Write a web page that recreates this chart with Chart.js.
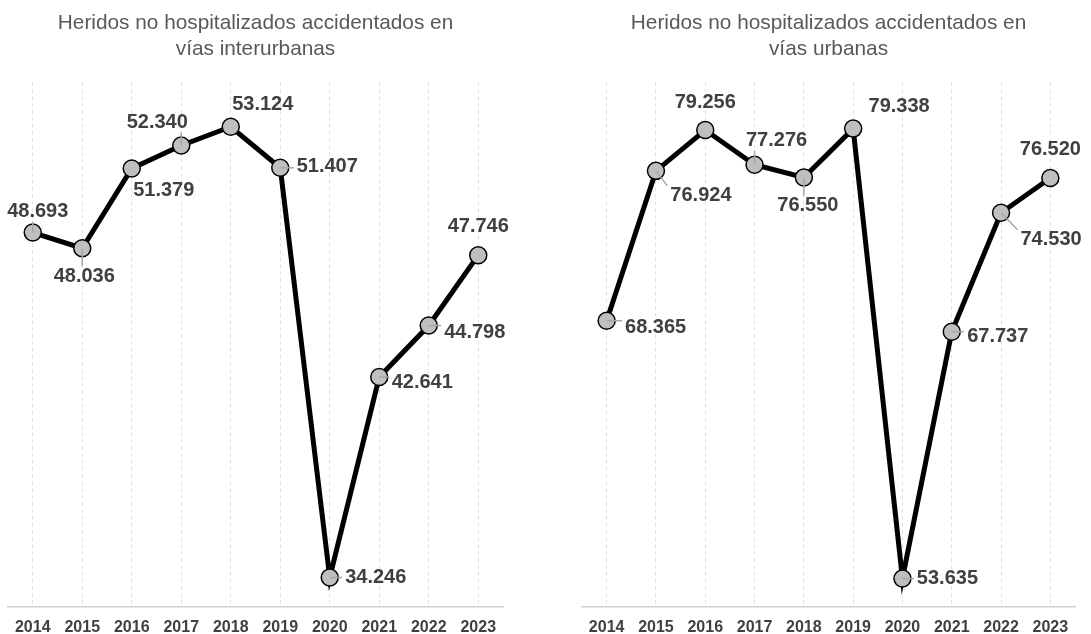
<!DOCTYPE html>
<html>
<head>
<meta charset="utf-8">
<script src="https://cdn.jsdelivr.net/npm/chart.js@4"></script>
<style>
  body { margin: 0; background: #fff; }
  .box { position: absolute; top: 0; }
</style>
</head>
<body>
<div class="box" style="left:0px"><canvas id="chartLeft" width="511" height="634"></canvas></div>
<div class="box" style="left:570px"><canvas id="chartRight" width="517" height="634"></canvas></div>
<script>
const years = ['2014', '2015', '2016', '2017', '2018', '2019', '2020', '2021', '2022', '2023'];
const interurbanas = [48693, 48036, 51379, 52340, 53124, 51407, 34246, 42641, 44798, 47746];
const urbanas = [68365, 76924, 79256, 77276, 76550, 79338, 53635, 67737, 74530, 76520];

const titleLeft = ['Heridos no hospitalizados accidentados en', 'vías interurbanas'];
const titleRight = ['Heridos no hospitalizados accidentados en', 'vías urbanas'];

// where each label sits relative to its point: [dx, dy, leader line?]
const labelPosLeft = [[5, -21, true], [2, 28, true], [32, 22, false], [-24, -23, true], [32, -22, false],
                      [47, -1, true], [46, 0, true], [43, 5, true], [46, 7, true], [0, -29, false]];
const labelPosRight = [[49, 7, true], [45, 25, true], [0, -28, false], [22, -24, true], [4, 28, true],
                       [46, -22, false], [45, 0, true], [46, 5, true], [50, 27, true], [0, -28, false]];

function formatNum(v) {
  return String(v).replace(/\B(?=(\d{3})+(?!\d))/g, '.');
}

const pointLabels = {
  id: 'pointLabels',
  afterDatasetsDraw(chart, args, opts) {
    const ctx = chart.ctx;
    const meta = chart.getDatasetMeta(0);
    const values = chart.data.datasets[0].data;
    ctx.save();
    ctx.font = 'bold 20px "Liberation Sans", Arial, sans-serif';
    ctx.textAlign = 'center';
    ctx.textBaseline = 'middle';
    meta.data.forEach(function(pt, i) {
      const pos = opts.positions[i];
      const text = formatNum(values[i]);
      const tx = pt.x + pos[0];
      const ty = pt.y + pos[1];
      if (pos[2]) {
        const w = ctx.measureText(text).width / 2 + 3;
        const h = 10;
        const ex = Math.max(tx - w, Math.min(pt.x, tx + w));
        const ey = Math.max(ty - h, Math.min(pt.y, ty + h));
        ctx.strokeStyle = '#a6a6a6';
        ctx.lineWidth = 1.5;
        ctx.beginPath();
        ctx.moveTo(pt.x, pt.y);
        ctx.lineTo(ex, ey);
        ctx.stroke();
      }
      ctx.fillStyle = '#404040';
      ctx.fillText(text, tx, ty);
    });
    ctx.restore();
  }
};

function makeChart(id, values, title, yMin, yMax, positions, sidePad) {
  const ctx = document.getElementById(id).getContext('2d');
  return new Chart(ctx, {
    type: 'line',
    data: {
      labels: years,
      datasets: [{
        data: values,
        borderColor: '#000000',
        borderWidth: 5,
        tension: 0,
        pointRadius: 8.5,
        pointHoverRadius: 8.5,
        pointBackgroundColor: '#bfbfbf',
        pointBorderColor: '#000000',
        pointBorderWidth: 1.5,
        clip: false
      }]
    },
    options: {
      responsive: false,
      devicePixelRatio: 1,
      animation: false,
      layout: { autoPadding: false, padding: { left: sidePad, right: sidePad, top: 10, bottom: -14 } },
      plugins: {
        legend: { display: false },
        tooltip: { enabled: false },
        title: {
          display: true,
          text: title,
          color: '#595959',
          font: { family: '"Liberation Sans", Arial, sans-serif', size: 20.8, weight: 'normal', lineHeight: 1.25 },
          padding: { top: 0, bottom: 20 }
        },
        pointLabels: { positions: positions }
      },
      scales: {
        x: {
          offset: true,
          grid: { color: '#e3e3e3', lineWidth: 1, drawTicks: false, tickLength: 0 },
          border: { display: true, color: '#d0d0d0', width: 1.5, dash: [4, 3] },
          ticks: {
            color: '#404040',
            padding: 14,
            font: { family: '"Liberation Sans", Arial, sans-serif', size: 16, weight: 'bold', lineHeight: 0.8 }
          }
        },
        y: {
          display: false,
          min: yMin,
          max: yMax
        }
      }
    },
    plugins: [pointLabels]
  });
}

Chart.defaults.font.family = '"Liberation Sans", Arial, sans-serif';
makeChart('chartLeft', interurbanas, titleLeft, 33000, 55000, labelPosLeft, 8);
makeChart('chartRight', urbanas, titleRight, 52000, 82000, labelPosRight, 12);
</script>
</body>
</html>
